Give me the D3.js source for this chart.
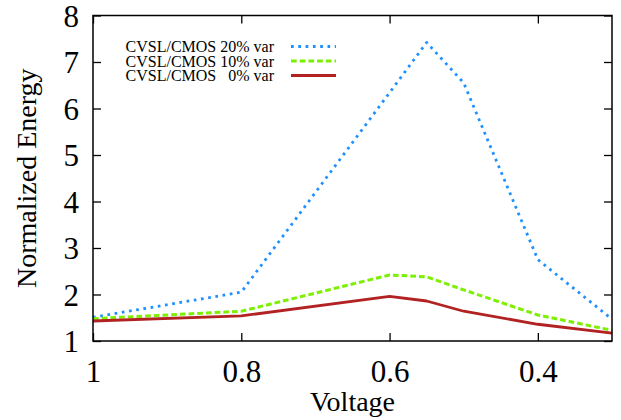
<!DOCTYPE html>
<html>
<head>
<meta charset="utf-8">
<script src="https://cdn.jsdelivr.net/npm/d3@7"></script>
<style>
  body { margin: 0; background: #fff; }
  text { font-family: "Liberation Serif", "DejaVu Serif", serif; }
</style>
</head>
<body>
<svg width="621" height="420"></svg>
<script>
const voltages = [1, 0.8, 0.6, 0.55, 0.5, 0.4, 0.3];
const var20 = [1.51, 2.05, 6.34, 7.42, 6.55, 2.75, 1.47];
const var10 = [1.48, 1.64, 2.42, 2.38, 2.1, 1.56, 1.23];
const var0 = [1.43, 1.54, 1.96, 1.86, 1.64, 1.36, 1.17];
const xTicks = [1, 0.8, 0.6, 0.4];
const yTicks = [1, 2, 3, 4, 5, 6, 7, 8];

const series = [
  { name: "CVSL/CMOS 20% var", values: var20, color: "#1e90ff", width: 2.8, dash: "2.7 4.6", cap: "butt" },
  { name: "CVSL/CMOS 10% var", values: var10, color: "#7cf000", width: 3, dash: "5.7 3", cap: "butt" },
  { name: "CVSL/CMOS   0% var", values: var0, color: "#b22222", width: 2.8, dash: null, cap: "butt" }
];

const svg = d3.select("svg");
const m = { left: 93, right: 612, top: 15.5, bottom: 341 };

const x = d3.scaleLinear().domain([1, 0.3]).range([m.left, m.right]);
const y = d3.scaleLinear().domain([1, 8]).range([m.bottom, m.top]);

const line = d3.line()
  .x((d, i) => x(voltages[i]))
  .y(d => y(d));

// series
series.forEach(s => {
  svg.append("path")
    .datum(s.values)
    .attr("d", line)
    .attr("fill", "none")
    .attr("stroke", s.color)
    .attr("stroke-width", s.width)
    .attr("stroke-dasharray", s.dash)
    .attr("stroke-linecap", s.cap)
    .attr("stroke-linejoin", "round");
});

// axes (ticks inward, mirrored)
const tickLen = 8;
svg.append("g")
  .attr("transform", `translate(0,${m.bottom})`)
  .call(d3.axisBottom(x).tickValues(xTicks).tickSize(-tickLen).tickFormat(d3.format("")))
  .call(g => g.selectAll("text").attr("dy", 0).attr("y", 41).attr("font-size", 31).attr("fill", "#000"));
svg.append("g")
  .attr("transform", `translate(0,${m.top})`)
  .call(d3.axisTop(x).tickValues(xTicks).tickSize(-tickLen).tickFormat(""));
svg.append("g")
  .attr("transform", `translate(${m.left},0)`)
  .call(d3.axisLeft(y).tickValues(yTicks).tickSize(-tickLen).tickFormat(d3.format("d")))
  .call(g => g.selectAll("text").attr("x", -14).attr("dy", "0.34em").attr("font-size", 31).attr("fill", "#000"));
svg.append("g")
  .attr("transform", `translate(${m.right},0)`)
  .call(d3.axisRight(y).tickValues(yTicks).tickSize(-tickLen).tickFormat(""));

svg.selectAll(".domain").remove();
svg.selectAll(".tick line").attr("stroke", "#000").attr("stroke-width", 1.3);
svg.selectAll(".tick text").attr("font-family", "Liberation Serif");

svg.append("rect")
  .attr("x", m.left).attr("y", m.top)
  .attr("width", m.right - m.left).attr("height", m.bottom - m.top)
  .attr("fill", "none").attr("stroke", "#000").attr("stroke-width", 1.5);

// axis labels
svg.append("text")
  .attr("x", (m.left + m.right) / 2).attr("y", 411)
  .attr("text-anchor", "middle").attr("font-size", 28)
  .text("Voltage");
svg.append("text")
  .attr("transform", `translate(36,${(m.top + m.bottom) / 2}) rotate(-90)`)
  .attr("text-anchor", "middle").attr("font-size", 28)
  .text("Normalized Energy");

// legend
const legend = svg.append("g");
series.forEach((s, i) => {
  const ly = 46.5 + i * 14.5;
  legend.append("text")
    .attr("x", 274).attr("y", ly + 5.5)
    .attr("text-anchor", "end").attr("font-size", 16)
    .style("white-space", "pre")
    .text(s.name);
  legend.append("line")
    .attr("x1", 291).attr("x2", 336)
    .attr("y1", ly).attr("y2", ly)
    .attr("stroke", s.color)
    .attr("stroke-width", s.width)
    .attr("stroke-dasharray", s.dash)
    .attr("stroke-linecap", s.cap);
});
</script>
</body>
</html>
